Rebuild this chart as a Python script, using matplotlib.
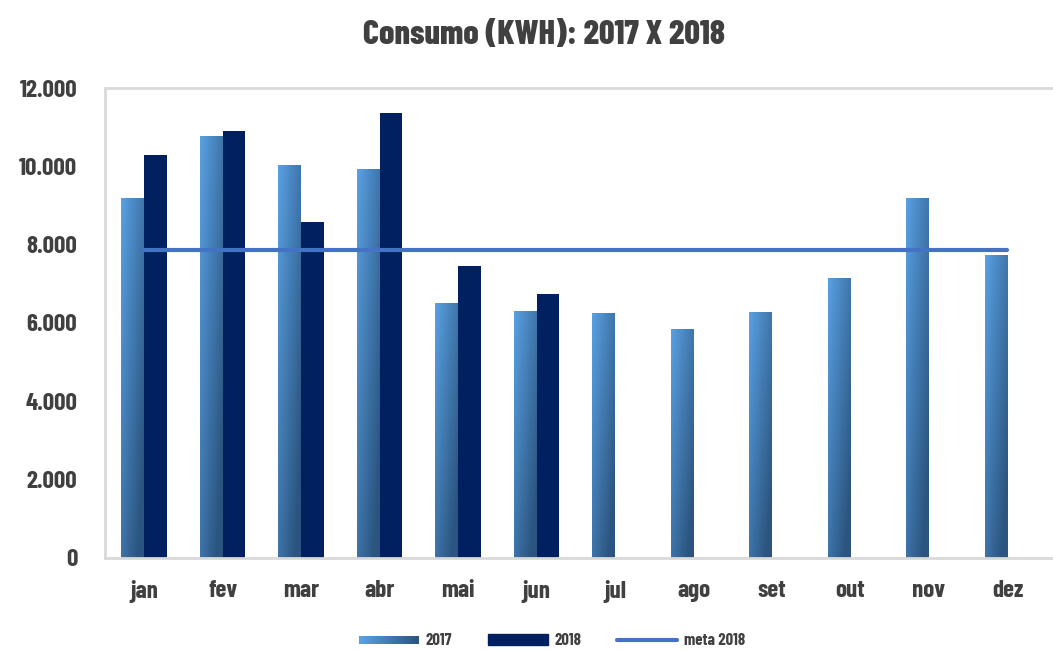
import numpy as np
import matplotlib
matplotlib.use('Agg')
import matplotlib.pyplot as plt
from matplotlib.patches import Rectangle
from matplotlib.legend_handler import HandlerBase
from matplotlib.colors import to_rgb

plt.rcParams['font.family'] = ['Barlow Condensed', 'Fjalla One', 'DejaVu Sans']
plt.rcParams['font.weight'] = 'bold'

meses = ['jan', 'fev', 'mar', 'abr', 'mai', 'jun', 'jul', 'ago', 'set', 'out', 'nov', 'dez']
consumo_2017 = [9180, 10770, 10030, 9920, 6490, 6300, 6240, 5840, 6260, 7130, 9180, 7730]
consumo_2018 = [10290, 10910, 8580, 11370, 7460, 6750]
meta_2018 = 7870

txt = '#404040'
c_light = np.array(to_rgb('#59a0e2'))
c_dark = np.array(to_rgb('#2b5580'))
c_2018 = '#002060'
c_meta = '#4472c4'


def grad_img(n=60, m=20):
    # diagonal gradient: light at top-left, dark at bottom-right
    v = np.linspace(1, 0, n)[:, None]
    u = np.linspace(0, 1, m)[None, :]
    t = np.clip(0.55 * u + 0.6 * (1 - v), 0, 1)
    return c_light[None, None, :] * (1 - t[..., None]) + c_dark[None, None, :] * t[..., None]


class GradHandler(HandlerBase):
    def create_artists(self, legend, orig, xd, yd, w, h, fontsize, trans):
        arts = []
        k = 20
        for i in range(k):
            t = i / (k - 1)
            col = c_light * (1 - t) + c_dark * t
            r = Rectangle((xd + w * i / k, yd + h * 0.15), w / k + 0.3, h * 0.7,
                          facecolor=col, edgecolor='none', transform=trans)
            arts.append(r)
        return arts


fig = plt.figure(figsize=(10.53, 6.51), dpi=100)
ax = fig.add_axes([0.0997, 0.1429, 0.9003, 0.7219])

x = np.arange(len(meses))
w = 0.29
img = grad_img()
bars17 = ax.bar(x - w / 2, consumo_2017, w, color='none', edgecolor='none')
for b in bars17:
    x0, y0 = b.get_x(), b.get_y()
    ax.imshow(img, extent=(x0, x0 + b.get_width(), y0, y0 + b.get_height()),
              aspect='auto', zorder=2, interpolation='bilinear')
ax.bar(x[:len(consumo_2018)] + w / 2, consumo_2018, w, color=c_2018, zorder=2)
ax.plot([x[0], x[-1]], [meta_2018, meta_2018], color=c_meta, lw=3,
        solid_capstyle='round', zorder=3)

ax.set_xlim(-0.5, 11.58)
ax.set_ylim(0, 12000)
ax.set_yticks(np.arange(0, 12001, 2000))
ax.set_yticklabels(['0' if v == 0 else f'{v // 1000}.000' for v in range(0, 12001, 2000)])
ax.set_xticks(x)
ax.set_xticklabels(meses)
ax.tick_params(axis='y', length=0, pad=20, labelsize=18, labelcolor=txt)
ax.tick_params(axis='x', length=0, pad=16, labelsize=18, labelcolor=txt)
for s in ['left', 'top', 'bottom']:
    ax.spines[s].set_color('#d9d9d9')
    ax.spines[s].set_linewidth(2)
ax.spines['right'].set_visible(False)

fig.text(0.517, 0.946, 'Consumo (KWH): 2017 X 2018', ha='center', va='center',
         fontsize=24.5, color=txt, fontweight=800)

h17 = Rectangle((0, 0), 1, 1)
h18 = Rectangle((0, 0), 1, 1, color=c_2018)
hm = plt.Line2D([0], [0], color=c_meta, lw=3, solid_capstyle='round')
fig.legend([h17, h18, hm], ['2017', '2018', 'meta 2018'], loc='center',
           bbox_to_anchor=(0.524, 0.0154), ncol=3, frameon=False,
           handler_map={h17: GradHandler()}, fontsize=12, labelcolor=txt,
           handlelength=3.6, handletextpad=0.4, columnspacing=2.15)

fig.savefig('out.png', dpi=100)
